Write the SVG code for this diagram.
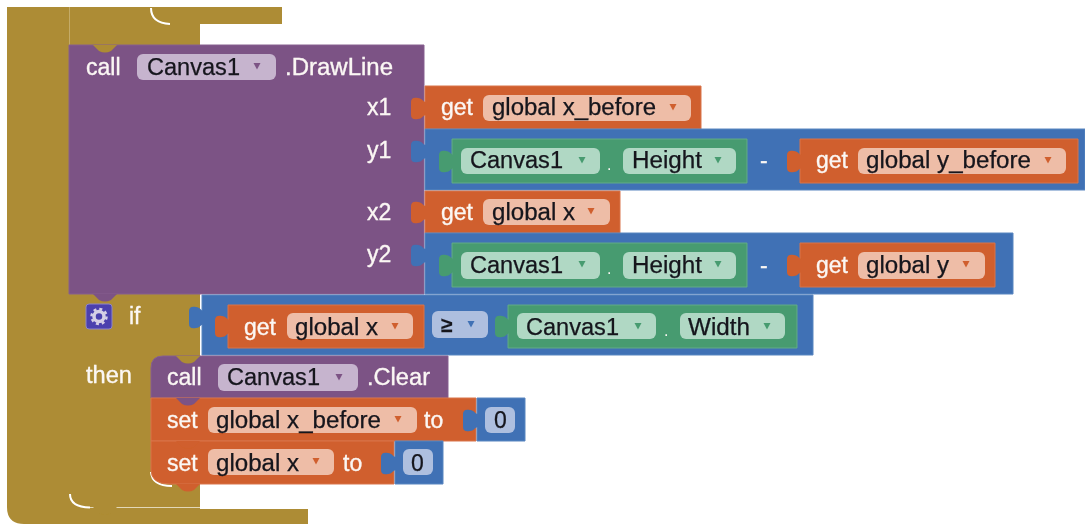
<svg xmlns="http://www.w3.org/2000/svg" width="1085" height="524" viewBox="0 0 1085 524">
<style>
text{font-family:"Liberation Sans",Arial,sans-serif;font-size:23px}
.w{fill:#fbf7f4;stroke:#fbf7f4;stroke-width:.35}
.k{fill:#14141c;stroke:#14141c;stroke-width:.25}
.d{fill:#fbf7f4;font-size:16px}
.gold{fill:#ad8c34}
.pur{fill:#7c5385;stroke:#86608f;stroke-width:1}
.org{fill:#d05f2d;stroke:#d9744a;stroke-width:1}
.blu{fill:#3f71b5;stroke:#5a86c0;stroke-width:1}
.grn{fill:#479b70;stroke:#62ab86;stroke-width:1}
.fp{fill:#c6b4ce}.fo{fill:#eebda7}.fg{fill:#b0d8c4}.fb{fill:#aebfdf}
.ap{fill:#7c5385}.ao{fill:#d05f2d}.ag{fill:#479b70}.ab{fill:#3f71b5}
.tp{fill:#7c5385}.to{fill:#d05f2d}.tg{fill:#479b70}.tb{fill:#3f71b5}
.corner{fill:none;stroke:#fff;stroke-width:2}
</style>
<defs>
<filter id="soft" x="-2%" y="-2%" width="104%" height="104%"><feGaussianBlur stdDeviation="0.45"/></filter>
<path id="tab" d="M2 5C-1 5-2 1-6 1C-10 0-13 1-13 5V18C-13 22-10 23-6 22C-2 22-1 18 2 18Z"/>
<path id="bump" d="M0 0L6 6Q12 9 18 6L24 0Z"/>
<path id="arr" d="M-3.500 -3H3.500L0 3.500Z"/>
</defs>
<g filter="url(#soft)">
<g id="outer-block">
<path class="gold" d="M7 7H282V24H200V45H69V294H200V509H308V524H24Q7 524 7 507Z"/>
<path class="corner" d="M151 8Q151 23 170 24"/>
<path class="corner" d="M70 494Q70 507 90 507.500"/>
<path d="M90 507.500H200" stroke="#e3d8b8" stroke-width="1" fill="none"/>
<use href="#bump" class="gold" x="93" y="507"/>
<rect x="69" y="7" width="1" height="38" fill="#c4ab68"/>
</g>
<g id="drawline-block">
<path class="pur" d="M69 45H424V294H69Z"/>
<use href="#bump" class="gold" x="93" y="45"/>
<text class="w" x="86" y="75">call</text>
<rect class="fp" x="137" y="54" width="139" height="26" rx="6"/>
<text class="k" x="147" y="75" textLength="93" lengthAdjust="spacingAndGlyphs">Canvas1</text>
<use href="#arr" class="ap" x="257" y="66"/>
<text class="w" x="285" y="75" textLength="108" lengthAdjust="spacingAndGlyphs">.DrawLine</text>
<text class="w" x="367" y="115">x1</text>
<text class="w" x="367" y="158">y1</text>
<text class="w" x="367" y="220">x2</text>
<text class="w" x="367" y="262">y2</text>
</g>
<g id="get-x-before">
<path class="org" d="M425 86H701V129H425Z"/>
<use href="#tab" class="to" x="424" y="97"/>
<text class="w" x="441" y="115">get</text>
<rect class="fo" x="483" y="95" width="208" height="26" rx="6"/>
<text class="k" x="492" y="115" textLength="164" lengthAdjust="spacingAndGlyphs">global x_before</text>
<use href="#arr" class="ao" x="673" y="107"/>
</g>
<g id="minus-y1">
<path class="blu" d="M425 129H1085V190H425Z"/>
<use href="#tab" class="tb" x="424" y="140"/>
<text class="w" x="760" y="168">-</text>
</g>
<g id="height-y1">
<path class="grn" d="M452 139H747V183H452Z"/>
<use href="#tab" class="tg" x="452" y="150"/>
<rect class="fg" x="461" y="148" width="139" height="26" rx="6"/>
<text class="k" x="470" y="168" textLength="93" lengthAdjust="spacingAndGlyphs">Canvas1</text>
<use href="#arr" class="ag" x="582" y="160"/>
<text class="d" x="607" y="170">.</text>
<rect class="fg" x="623" y="148" width="113" height="26" rx="6"/>
<text class="k" x="632" y="168" textLength="70" lengthAdjust="spacingAndGlyphs">Height</text>
<use href="#arr" class="ag" x="718" y="160"/>
</g>
<g id="get-y-before">
<path class="org" d="M800 139H1078V183H800Z"/>
<use href="#tab" class="to" x="800" y="150"/>
<text class="w" x="816" y="168">get</text>
<rect class="fo" x="858" y="148" width="208" height="26" rx="6"/>
<text class="k" x="866" y="168" textLength="165" lengthAdjust="spacingAndGlyphs">global y_before</text>
<use href="#arr" class="ao" x="1048" y="160"/>
</g>
<g id="get-x">
<path class="org" d="M425 191H620V233H425Z"/>
<use href="#tab" class="to" x="424" y="201"/>
<text class="w" x="441" y="220">get</text>
<rect class="fo" x="483" y="199" width="127" height="26" rx="6"/>
<text class="k" x="492" y="220" textLength="83" lengthAdjust="spacingAndGlyphs">global x</text>
<use href="#arr" class="ao" x="591" y="211"/>
</g>
<g id="minus-y2">
<path class="blu" d="M425 233H1013V294H425Z"/>
<use href="#tab" class="tb" x="424" y="244"/>
<text class="w" x="760" y="273">-</text>
</g>
<g id="height-y2">
<path class="grn" d="M452 243H747V287H452Z"/>
<use href="#tab" class="tg" x="452" y="254"/>
<rect class="fg" x="461" y="252" width="139" height="27" rx="6"/>
<text class="k" x="470" y="273" textLength="93" lengthAdjust="spacingAndGlyphs">Canvas1</text>
<use href="#arr" class="ag" x="582" y="264"/>
<text class="d" x="607" y="274">.</text>
<rect class="fg" x="623" y="252" width="113" height="27" rx="6"/>
<text class="k" x="632" y="273" textLength="70" lengthAdjust="spacingAndGlyphs">Height</text>
<use href="#arr" class="ag" x="718" y="264"/>
</g>
<g id="get-y">
<path class="org" d="M800 243H995V287H800Z"/>
<use href="#tab" class="to" x="800" y="254"/>
<text class="w" x="816" y="273">get</text>
<rect class="fo" x="858" y="252" width="127" height="27" rx="6"/>
<text class="k" x="866" y="273" textLength="83" lengthAdjust="spacingAndGlyphs">global y</text>
<use href="#arr" class="ao" x="966" y="264"/>
</g>
<g id="if-block">
<use href="#bump" class="tp" x="93" y="294"/>
<rect x="86" y="304" width="26" height="25" rx="3" fill="#4c3fae" stroke="#8d86c8"/>
<circle cx="99" cy="316.500" r="5" fill="none" stroke="#d6cfe6" stroke-width="3.500"/>
<circle cx="99" cy="316.500" r="7.500" fill="none" stroke="#d6cfe6" stroke-width="2.500" stroke-dasharray="3 2.900"/>
<text class="w" x="129" y="324">if</text>
<text class="w" x="86" y="383" textLength="46" lengthAdjust="spacingAndGlyphs">then</text>
</g>
<g id="compare-block">
<path class="blu" d="M202 295H813V355H202Z"/>
<use href="#tab" class="tb" x="202" y="306"/>
<rect class="fb" x="432" y="311" width="56" height="27" rx="6"/>
<text class="k" x="441" y="332" font-weight="bold" style="font-size:21px">≥</text>
<use href="#arr" class="ab" x="471" y="324"/>
</g>
<g id="get-x-if">
<path class="org" d="M228 305H424V348H228Z"/>
<use href="#tab" class="to" x="228" y="315"/>
<text class="w" x="244" y="335">get</text>
<rect class="fo" x="287" y="313" width="126" height="26" rx="6"/>
<text class="k" x="295" y="335" textLength="83" lengthAdjust="spacingAndGlyphs">global x</text>
<use href="#arr" class="ao" x="395" y="326"/>
</g>
<g id="width-block">
<path class="grn" d="M508 305H797V348H508Z"/>
<use href="#tab" class="tg" x="508" y="315"/>
<rect class="fg" x="517" y="313" width="139" height="26" rx="6"/>
<text class="k" x="526" y="335" textLength="93" lengthAdjust="spacingAndGlyphs">Canvas1</text>
<use href="#arr" class="ag" x="638" y="326"/>
<text class="d" x="664" y="336">.</text>
<rect class="fg" x="680" y="313" width="105" height="26" rx="6"/>
<text class="k" x="688" y="335" textLength="62" lengthAdjust="spacingAndGlyphs">Width</text>
<use href="#arr" class="ag" x="767" y="326"/>
</g>
<g id="clear-block">
<path class="pur" d="M151 368Q151 356 163 356H448V398H151Z"/>
<use href="#bump" class="gold" x="176" y="356"/>
<text class="w" x="167" y="385">call</text>
<rect class="fp" x="218" y="364" width="140" height="27" rx="6"/>
<text class="k" x="227" y="385" textLength="93" lengthAdjust="spacingAndGlyphs">Canvas1</text>
<use href="#arr" class="ap" x="339" y="377"/>
<text class="w" x="367" y="385" textLength="63" lengthAdjust="spacingAndGlyphs">.Clear</text>
</g>
<g id="set-x-before">
<path class="org" d="M151 398H476V441H151Z"/>
<use href="#bump" class="tp" x="176" y="398"/>
<text class="w" x="167" y="428">set</text>
<rect class="fo" x="208" y="407" width="209" height="26" rx="6"/>
<text class="k" x="216" y="428" textLength="165" lengthAdjust="spacingAndGlyphs">global x_before</text>
<use href="#arr" class="ao" x="398" y="419"/>
<text class="w" x="424" y="428">to</text>
</g>
<g id="zero-1">
<path class="blu" d="M477 398H525V441H477Z"/>
<use href="#tab" class="tb" x="476" y="409"/>
<rect class="fb" x="485" y="407" width="30" height="26" rx="6"/>
<text class="k" x="494" y="428">0</text>
</g>
<g id="set-x">
<path class="corner" d="M151 472Q152 486 172 486"/>
<path class="org" d="M151 441H394V484H170Q151 484 151 470Z"/>
<use href="#bump" class="to" x="176" y="441"/>
<use href="#bump" class="to" x="176" y="484"/>
<text class="w" x="167" y="471">set</text>
<rect class="fo" x="208" y="449" width="126" height="26" rx="6"/>
<text class="k" x="216" y="471" textLength="83" lengthAdjust="spacingAndGlyphs">global x</text>
<use href="#arr" class="ao" x="316" y="461"/>
<text class="w" x="343" y="471">to</text>
</g>
<g id="zero-2">
<path class="blu" d="M395 441H443V484H395Z"/>
<use href="#tab" class="tb" x="394" y="452"/>
<rect class="fb" x="403" y="449" width="30" height="26" rx="6"/>
<text class="k" x="411" y="471">0</text>
</g>
<g id="connectors"/>
</g>
</svg>
